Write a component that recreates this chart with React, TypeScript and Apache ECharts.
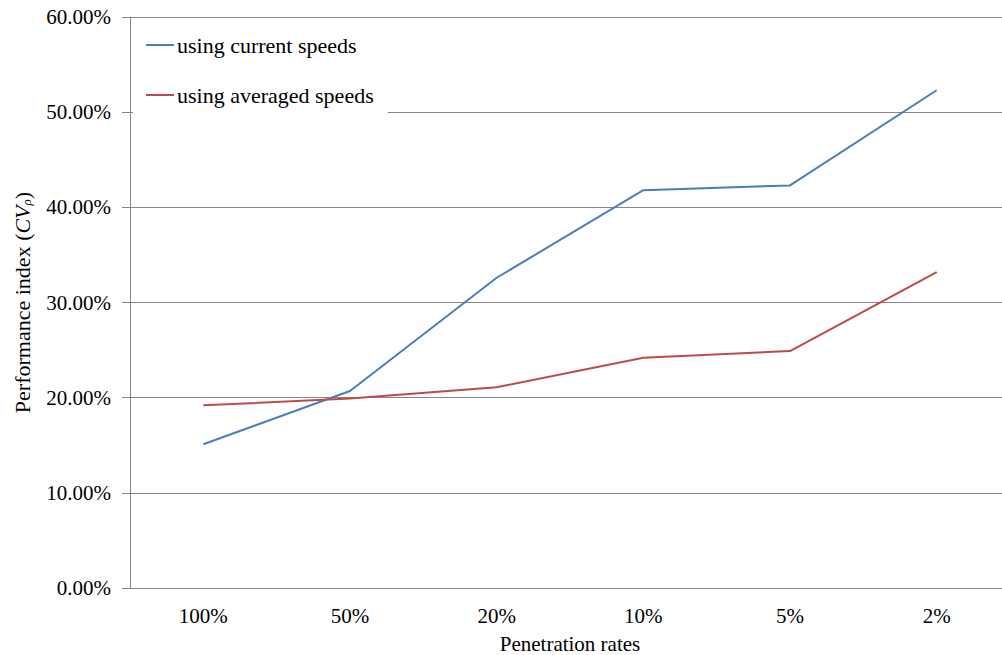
import React, { useEffect, useRef } from "react";
import * as echarts from "echarts";

const categories = ["100%", "50%", "20%", "10%", "5%", "2%"];
const currentSpeeds = [15.1, 20.7, 32.6, 41.8, 42.3, 52.3];
const averagedSpeeds = [19.2, 19.9, 21.1, 24.2, 24.9, 33.2];
const seriesNames = ["using current speeds", "using averaged speeds"];
const yMin = 0;
const yMax = 60;
const yInterval = 10;

const FONT = "'Liberation Serif', 'Times New Roman', serif";
const AXIS_GRAY = "#868686";
const FS = 21;

export default function App() {
  const ref = useRef<HTMLDivElement>(null);
  useEffect(() => {
    if (!ref.current) return;
    const chart = echarts.init(ref.current, null, { renderer: "svg" });
    chart.setOption({
      animation: false,
      backgroundColor: "#ffffff",
      textStyle: { fontFamily: FONT },
      grid: { left: 130, top: 17, width: 880, height: 571, outerBoundsMode: "none", containLabel: false },
      legend: {
        orient: "vertical",
        left: 133,
        top: 22,
        padding: [12, 14, 14, 13],
        backgroundColor: "#ffffff",
        icon: "rect",
        itemWidth: 28,
        itemHeight: 2,
        itemGap: 28,
        textStyle: { fontFamily: FONT, fontSize: 22, color: "#000", padding: [0, 0, 0, -2] },
        data: seriesNames,
      },
      xAxis: {
        type: "category",
        data: categories,
        boundaryGap: true,
        axisLine: { lineStyle: { color: AXIS_GRAY, width: 1 } },
        axisTick: { length: 8, lineStyle: { color: AXIS_GRAY } },
        axisLabel: { fontFamily: FONT, fontSize: FS, color: "#000", margin: 17 },
        name: "Penetration rates",
        nameLocation: "middle",
        nameGap: 45,
        nameTextStyle: { fontFamily: FONT, fontSize: FS, color: "#000" },
      },
      yAxis: {
        type: "value",
        min: yMin,
        max: yMax,
        interval: yInterval,
        axisLine: { show: true, lineStyle: { color: AXIS_GRAY, width: 1 } },
        axisTick: { show: true, length: 8, lineStyle: { color: AXIS_GRAY } },
        splitLine: { lineStyle: { color: AXIS_GRAY, width: 1 } },
        axisLabel: {
          fontFamily: FONT,
          fontSize: FS,
          color: "#000",
          margin: 19,
          formatter: (v: number) => v.toFixed(2) + "%",
        },
        name: "Performance index ({i|CV}{sub|ρ})",
        nameLocation: "middle",
        nameRotate: 90,
        nameGap: 97,
        nameTextStyle: {
          fontFamily: FONT,
          fontSize: 22,
          color: "#000",
          rich: {
            i: { fontFamily: FONT, fontSize: 22, fontStyle: "italic", color: "#000" },
            sub: {
              fontFamily: FONT,
              fontSize: 13,
              fontStyle: "italic",
              color: "#000",
              verticalAlign: "bottom",
              padding: [8, 0, 0, 0],
            },
          },
        },
      },
      series: [
        {
          name: seriesNames[0],
          type: "line",
          data: currentSpeeds,
          symbol: "none",
          lineStyle: { color: "#4A7EBB", width: 2 },
          itemStyle: { color: "#4A7EBB" },
        },
        {
          name: seriesNames[1],
          type: "line",
          data: averagedSpeeds,
          symbol: "none",
          lineStyle: { color: "#BE4B48", width: 2 },
          itemStyle: { color: "#BE4B48" },
        },
      ],
    });
    return () => chart.dispose();
  }, []);
  return (
    <div
      ref={ref}
      style={{ position: "fixed", left: 0, top: 0, width: 1002, height: 655, background: "#fff" }}
    />
  );
}
